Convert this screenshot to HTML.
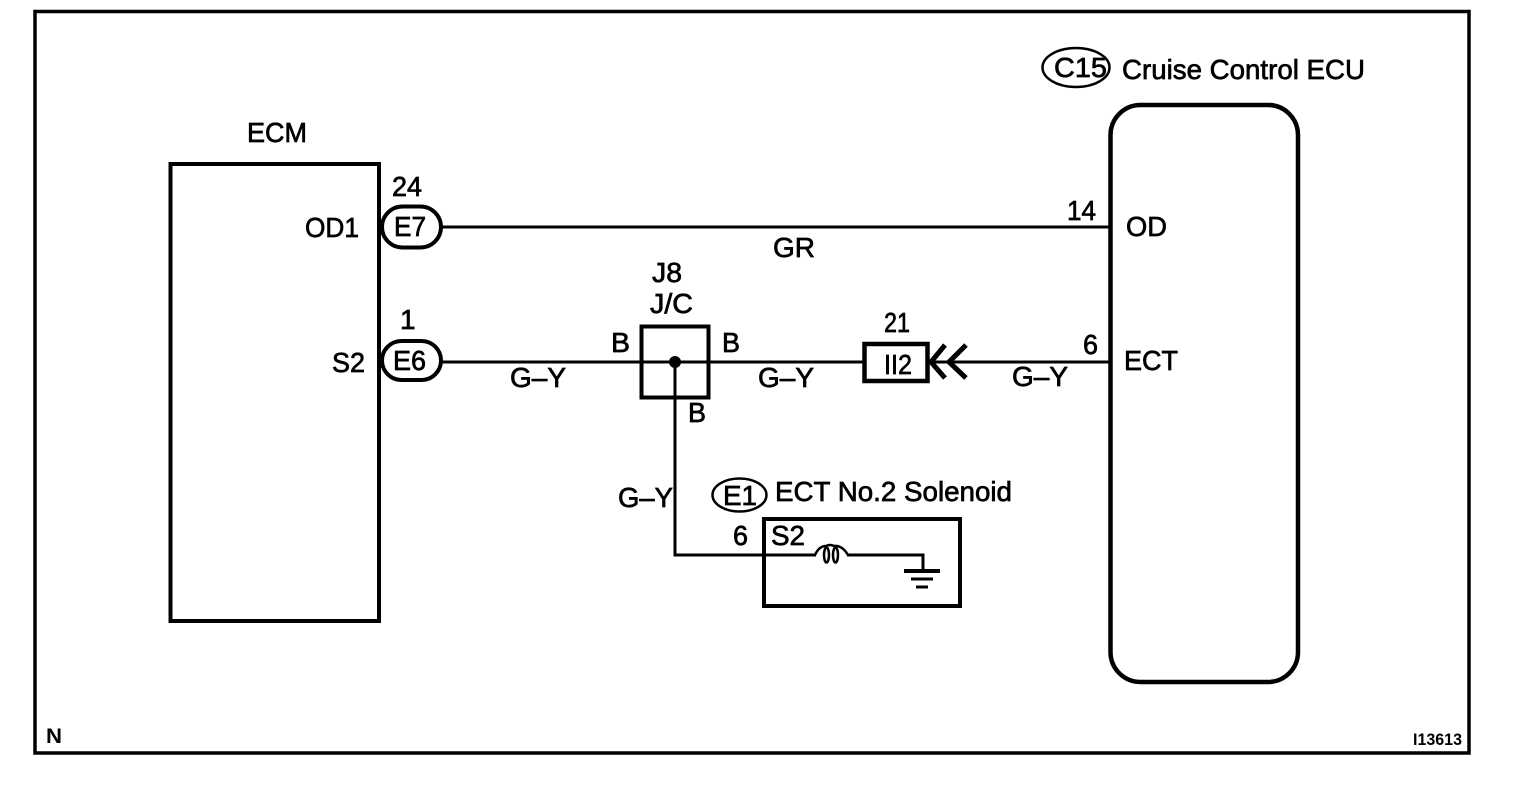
<!DOCTYPE html>
<html>
<head>
<meta charset="utf-8">
<style>
html,body{margin:0;padding:0;background:#fff;width:1520px;height:796px;overflow:hidden}
svg{display:block}
text{font-family:"Liberation Sans",sans-serif;font-size:28px;fill:#000;stroke:#000;stroke-width:.7px}
</style>
</head>
<body>
<svg width="1520" height="796" viewBox="0 0 1520 796" xmlns="http://www.w3.org/2000/svg">
<rect width="1520" height="796" fill="#fff"/>
<g fill="none" stroke="#000" stroke-linecap="butt">
  <rect x="35" y="11.500" width="1434" height="741.500" stroke-width="3.500"/>
  <rect x="170.500" y="164" width="208.500" height="457" stroke-width="4"/>
  <rect x="1110.500" y="105" width="187.500" height="577" rx="30" ry="30" stroke-width="4.500"/>
  <path d="M441 227H1111M441 362H863M928 362H1111" stroke-width="3"/>
  <path d="M675 362V555H816M847 555H923V570" stroke-width="3"/>
  <rect x="382" y="206.500" width="59" height="41" rx="20.500" stroke-width="4" fill="#fff"/>
  <rect x="382" y="341" width="59" height="39" rx="19.500" stroke-width="4" fill="#fff"/>
  <rect x="641.500" y="326.500" width="67" height="71" stroke-width="4"/>
  <rect x="864.500" y="344" width="63" height="37" stroke-width="4.500" fill="#fff"/>
  <path d="M945 345L931 362L945 378M966 345L949 362L966 378" stroke-width="5"/>
  <rect x="764" y="519" width="196" height="87" stroke-width="4"/>
  <ellipse cx="1076" cy="67.500" rx="33.500" ry="19.500" stroke-width="2.500"/>
  <ellipse cx="739.500" cy="495" rx="27" ry="16.500" stroke-width="2.500"/>
  <path d="M904 571H940" stroke-width="4"/>
  <path d="M911 579H933" stroke-width="3"/>
  <path d="M916 587H928" stroke-width="3"/>
  <path d="M815 555Q819 546 826 546Q830 544 834 546Q842 545 848 555" stroke-width="2.500"/>
  <ellipse cx="826.500" cy="555" rx="2.500" ry="7.500" stroke-width="2.500"/>
  <ellipse cx="835.500" cy="555" rx="2.500" ry="7.500" stroke-width="2.500"/>
</g>
<circle cx="675" cy="362" r="6" fill="#000"/>

<text x="247" y="142" textLength="60" lengthAdjust="spacingAndGlyphs">ECM</text>
<text x="392" y="196" textLength="30" lengthAdjust="spacingAndGlyphs">24</text>
<text x="305" y="237" textLength="54" lengthAdjust="spacingAndGlyphs">OD1</text>
<text x="394" y="236" textLength="32" lengthAdjust="spacingAndGlyphs">E7</text>
<text x="400" y="329">1</text>
<text x="332" y="372" textLength="33" lengthAdjust="spacingAndGlyphs">S2</text>
<text x="393" y="370" textLength="33" lengthAdjust="spacingAndGlyphs">E6</text>
<text x="773" y="257" textLength="42" lengthAdjust="spacingAndGlyphs">GR</text>
<text x="510" y="387" textLength="56" lengthAdjust="spacingAndGlyphs">G–Y</text>
<text x="758" y="387" textLength="56" lengthAdjust="spacingAndGlyphs">G–Y</text>
<text x="1012" y="386" textLength="56" lengthAdjust="spacingAndGlyphs">G–Y</text>
<text x="618" y="507" textLength="55" lengthAdjust="spacingAndGlyphs">G–Y</text>
<text x="652" y="282" textLength="30" lengthAdjust="spacingAndGlyphs">J8</text>
<text x="650" y="313" textLength="43" lengthAdjust="spacingAndGlyphs">J/C</text>
<text x="611" y="352" textLength="19" lengthAdjust="spacingAndGlyphs">B</text>
<text x="722" y="352" textLength="18" lengthAdjust="spacingAndGlyphs">B</text>
<text x="688" y="422" textLength="18" lengthAdjust="spacingAndGlyphs">B</text>
<text x="884" y="332" textLength="26" lengthAdjust="spacingAndGlyphs">21</text>
<text x="884" y="374" textLength="28" lengthAdjust="spacingAndGlyphs">II2</text>
<text x="1067" y="220" textLength="29" lengthAdjust="spacingAndGlyphs">14</text>
<text x="1083" y="354" textLength="15" lengthAdjust="spacingAndGlyphs">6</text>
<text x="1126" y="236" textLength="41" lengthAdjust="spacingAndGlyphs">OD</text>
<text x="1124" y="370" textLength="54" lengthAdjust="spacingAndGlyphs">ECT</text>
<text x="1054" y="77" textLength="53" lengthAdjust="spacingAndGlyphs">C15</text>
<text x="1122" y="79" textLength="243" lengthAdjust="spacingAndGlyphs">Cruise Control ECU</text>
<text x="723" y="505" textLength="34" lengthAdjust="spacingAndGlyphs">E1</text>
<text x="775" y="501" textLength="237" lengthAdjust="spacingAndGlyphs">ECT No.2 Solenoid</text>
<text x="733" y="545" textLength="15" lengthAdjust="spacingAndGlyphs">6</text>
<text x="771" y="545" textLength="34" lengthAdjust="spacingAndGlyphs">S2</text>
<text x="46" y="743" textLength="16" lengthAdjust="spacingAndGlyphs" style="font-size:21px;font-weight:bold;stroke-width:0">N</text>
<text x="1413" y="745" textLength="49" lengthAdjust="spacingAndGlyphs" style="font-size:17px;font-weight:bold;stroke-width:0">I13613</text>
</svg>
</body>
</html>
